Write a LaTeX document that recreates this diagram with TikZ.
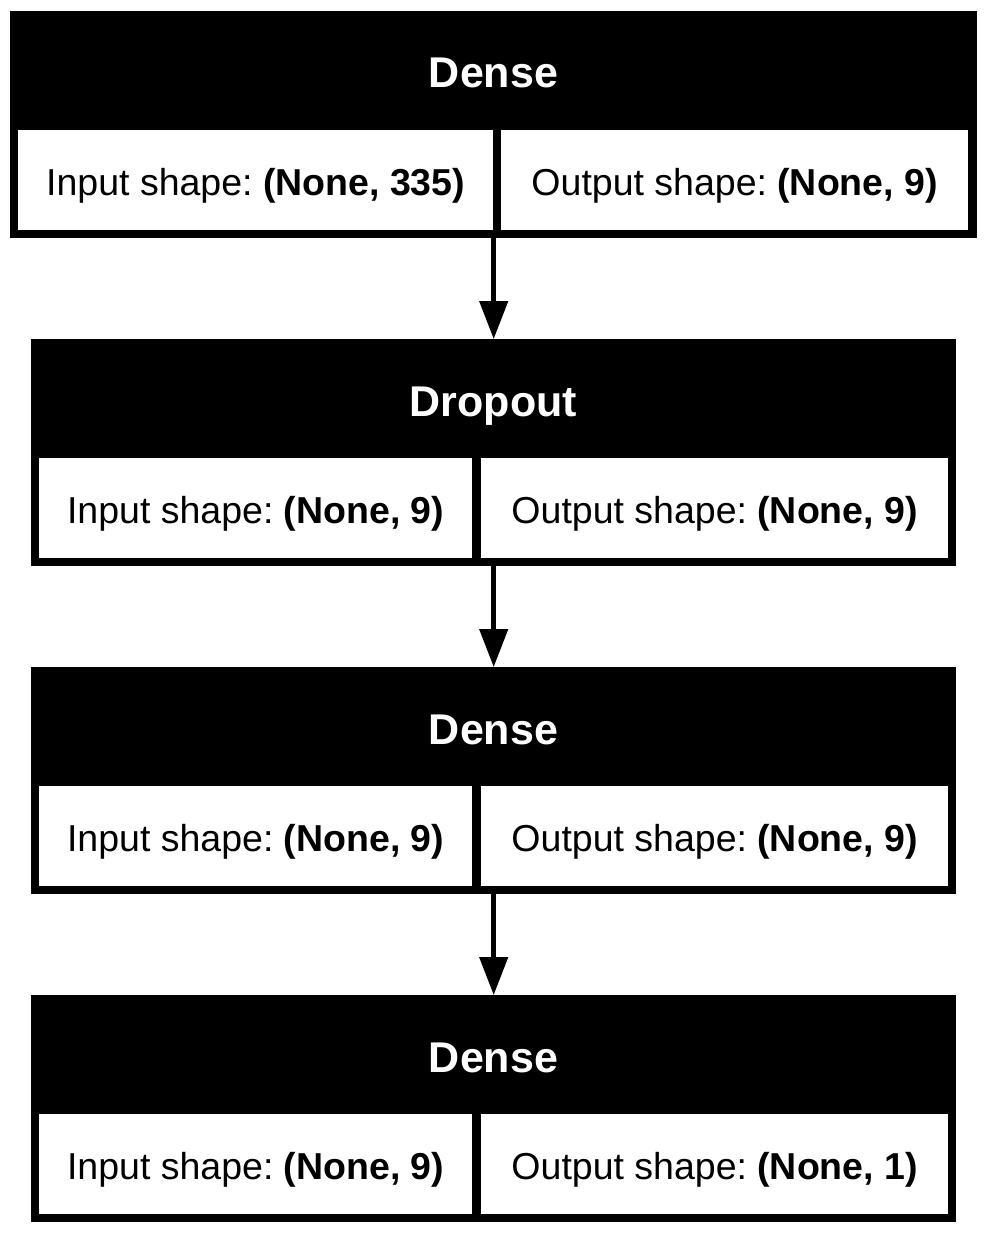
\documentclass[tikz,border=0pt]{standalone}
\usepackage{fontspec}
\setmainfont{Liberation Sans}
\usetikzlibrary{arrows.meta}

\newcommand\cellfnt{\fontsize{37.5}{45}\selectfont\frenchspacing}
\newcommand\hdfnt{\fontsize{43}{50}\selectfont\bfseries}

\begin{document}
\begin{tikzpicture}[x=1pt,y=-1pt,
  layerbox/.style={fill=black, draw=none, inner sep=0pt, anchor=north west,
    minimum height=227pt},
  title/.style={text=white, font=\hdfnt, inner sep=0pt, anchor=base},
  cell/.style={fill=white, draw=none, inner sep=0pt, anchor=north west,
    minimum height=100pt, text height=32pt, text depth=2pt, font=\cellfnt},
  flow/.style={line width=4.5pt, -{Triangle[length=38pt,width=28pt]}}]

\useasboundingbox[fill=white] (0,0) rectangle (986,1233);

% first Dense layer
\node[layerbox, minimum width=967pt] (L1) at (10,11) {};
\node[title] (L1t) at (493.5,88) {Dense};
\node[cell, minimum width=475pt] (L1in) at (18,130) {Input shape: \textbf{(None, 335)}};
\node[cell, minimum width=467pt] (L1out) at (501,130) {Output shape: \textbf{(None, 9)}};

% Dropout layer
\node[layerbox, minimum width=925pt] (L2) at (31,339) {};
\node[title] (L2t) at (493.5,416) {Dropout};
\node[cell, minimum width=433pt] (L2in) at (39,458) {Input shape: \textbf{(None, 9)}};
\node[cell, minimum width=467pt] (L2out) at (481,458) {Output shape: \textbf{(None, 9)}};

% second Dense layer
\node[layerbox, minimum width=925pt] (L3) at (31,667) {};
\node[title] (L3t) at (493.5,744) {Dense};
\node[cell, minimum width=433pt] (L3in) at (39,786) {Input shape: \textbf{(None, 9)}};
\node[cell, minimum width=467pt] (L3out) at (481,786) {Output shape: \textbf{(None, 9)}};

% output Dense layer
\node[layerbox, minimum width=925pt] (L4) at (31,995) {};
\node[title] (L4t) at (493.5,1072) {Dense};
\node[cell, minimum width=433pt] (L4in) at (39,1114) {Input shape: \textbf{(None, 9)}};
\node[cell, minimum width=467pt] (L4out) at (481,1114) {Output shape: \textbf{(None, 1)}};

% data flow between layers
\draw[flow] (L1.south) -- (L2.north);
\draw[flow] (L2.south) -- (L3.north);
\draw[flow] (L3.south) -- (L4.north);
\end{tikzpicture}
\end{document}
